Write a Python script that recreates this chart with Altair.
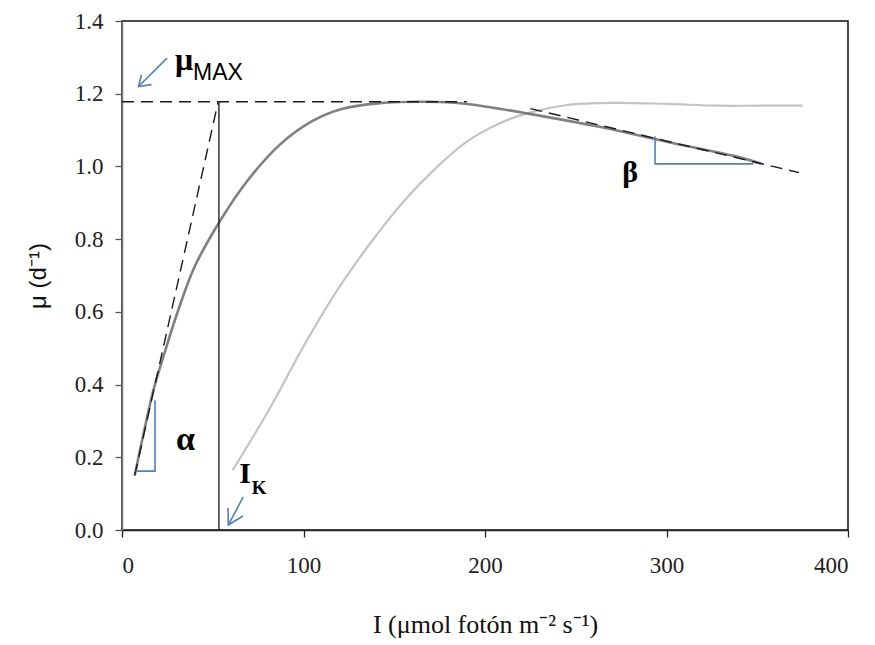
import altair as alt
import pandas as pd

# ---- data ----
dark_x = [7, 12, 17.3, 23, 30, 40, 54, 69, 87, 105, 121, 142, 165, 183, 200, 223, 263, 300, 337, 352]
dark_y = [0.15, 0.268, 0.385, 0.48, 0.59, 0.724, 0.85, 0.96, 1.06, 1.125, 1.158, 1.174, 1.178, 1.175, 1.165, 1.146, 1.109, 1.068, 1.029, 1.008]

light_x = [61, 81.5, 100, 118, 137, 155, 173, 190, 207, 223, 245, 272, 300, 328, 350, 375]
light_y = [0.165, 0.335, 0.505, 0.655, 0.79, 0.903, 0.996, 1.068, 1.116, 1.146, 1.169, 1.175, 1.172, 1.167, 1.167, 1.167]

# dashed guide lines
mumax_x = [0, 190]
mumax_y = [1.178, 1.178]
alpha_x = [7, 53]
alpha_y = [0.15, 1.178]
beta_x = [225, 373]
beta_y = [1.159, 0.983]

# I_K vertical line
ik_x = [53.4, 53.4]
ik_y = [0.0, 1.178]

# blue slope triangles
alpha_tri_x = [18.2, 18.2, 7.5]
alpha_tri_y = [0.357, 0.162, 0.162]
beta_tri_x = [293.7, 293.7, 347.8]
beta_tri_y = [1.082, 1.007, 1.007]

# blue arrows (shaft, head)
mu_arrow_shaft_x = [24.8, 9.1]
mu_arrow_shaft_y = [1.298, 1.220]
mu_arrow_head_x = [10.7, 9.1, 16.3]
mu_arrow_head_y = [1.252, 1.220, 1.225]
ik_arrow_shaft_x = [66.8, 58.6]
ik_arrow_shaft_y = [0.091, 0.0138]
ik_arrow_head_x = [58.4, 58.6, 66.6]
ik_arrow_head_y = [0.0605, 0.0138, 0.0385]

x_ticks = [0, 100, 200, 300, 400]
y_ticks = [0.0, 0.2, 0.4, 0.6, 0.8, 1.0, 1.2, 1.4]

FONT_SERIF = "Liberation Serif"
FONT_SANS = "Liberation Sans"

X_SCALE = alt.Scale(domain=[0, 400], nice=False, zero=False)
Y_SCALE = alt.Scale(domain=[0, 1.4], nice=False, zero=False)
X_AXIS = alt.Axis(title="I (μmol fotón m⁻² s⁻¹)", values=x_ticks, format="d",
                  grid=False, tickSize=7, labelPadding=17, titlePadding=34,
                  domainColor="#222", tickColor="#222",
                  labelFont=FONT_SERIF, labelFontSize=23, labelColor="#222",
                  titleFont=FONT_SERIF, titleFontSize=26, titleColor="#111", titleFontWeight="normal")
Y_AXIS = alt.Axis(title="μ (d⁻¹)", values=y_ticks, format=".1f",
                  grid=False, tickSize=7, labelPadding=12, titlePadding=24,
                  domainColor="#777", tickColor="#555",
                  labelFont=FONT_SERIF, labelFontSize=23, labelColor="#222",
                  titleFont=FONT_SANS, titleFontSize=24, titleColor="#111", titleFontWeight="normal")


def XE():
    return alt.X("x:Q", scale=X_SCALE, axis=X_AXIS)


def YE():
    return alt.Y("y:Q", scale=Y_SCALE, axis=Y_AXIS)


def seq(xs, ys, name):
    return pd.DataFrame({"x": xs, "y": ys, "i": list(range(len(xs))), "g": name})


def enc_xy():
    return dict(x=XE(), y=YE(), order="i:Q", detail="g:N")


dark = alt.Chart(seq(dark_x, dark_y, "dark")).mark_line(
    color="#808080", strokeWidth=2.6, interpolate="catmull-rom").encode(**enc_xy())
light = alt.Chart(seq(light_x, light_y, "light")).mark_line(
    color="#c4c4c4", strokeWidth=2.2, interpolate="catmull-rom").encode(**enc_xy())

dashed_df = pd.concat([
    seq(mumax_x, mumax_y, "mumax"),
    seq(alpha_x, alpha_y, "alpha"),
    seq(beta_x, beta_y, "beta"),
])
dashed = alt.Chart(dashed_df).mark_line(
    color="#1a1a1a", strokeWidth=1.4, strokeDash=[12, 7]).encode(**enc_xy())

ik = alt.Chart(seq(ik_x, ik_y, "ik")).mark_line(
    color="#222", strokeWidth=1.4).encode(**enc_xy())

blue_df = pd.concat([
    seq(alpha_tri_x, alpha_tri_y, "atri"),
    seq(beta_tri_x, beta_tri_y, "btri"),
    seq(mu_arrow_shaft_x, mu_arrow_shaft_y, "mushaft"),
    seq(mu_arrow_head_x, mu_arrow_head_y, "muhead"),
    seq(ik_arrow_shaft_x, ik_arrow_shaft_y, "ikshaft"),
    seq(ik_arrow_head_x, ik_arrow_head_y, "ikhead"),
])
blue = alt.Chart(blue_df).mark_line(color="#4f81bd", strokeWidth=1.6).encode(**enc_xy())


def txt(df, **kw):
    return alt.Chart(df).mark_text(**kw).encode(x=XE(), y=YE(), text="t:N")


mu_t = txt(pd.DataFrame({"x": [29.2], "y": [1.265], "t": ["μ"]}),
           font=FONT_SERIF, fontSize=32, fontWeight="bold", align="left", baseline="alphabetic", color="#000")
max_t = txt(pd.DataFrame({"x": [39.1], "y": [1.238], "t": ["MAX"]}),
            font=FONT_SANS, fontSize=23, align="left", baseline="alphabetic", color="#000")
alpha_t = txt(pd.DataFrame({"x": [35.0], "y": [0.22], "t": ["α"]}),
              font=FONT_SERIF, fontSize=34, fontWeight="bold", align="center", baseline="alphabetic", color="#000")
beta_t = txt(pd.DataFrame({"x": [280.0], "y": [0.982], "t": ["β"]}),
             font=FONT_SERIF, fontSize=30, fontWeight="bold", align="center", baseline="middle", color="#000")
i_t = txt(pd.DataFrame({"x": [67.8], "y": [0.13], "t": ["I"]}),
          font=FONT_SERIF, fontSize=30, fontWeight="bold", align="center", baseline="alphabetic", color="#000")
k_t = txt(pd.DataFrame({"x": [75.5], "y": [0.1], "t": ["K"]}),
          font=FONT_SERIF, fontSize=19, fontWeight="bold", align="center", baseline="alphabetic", color="#000")

chart = alt.layer(light, dark, dashed, ik, blue, mu_t, max_t, alpha_t, beta_t, i_t, k_t).properties(
    width=726, height=509,
    autosize=alt.AutoSizeParams(type="none"),
    padding={"left": 122, "top": 21, "right": 27, "bottom": 115},
    background="white",
).configure_view(
    stroke="#111", strokeWidth=1.5
).configure_axis(
    domainWidth=1.5, tickWidth=1.3,
)

chart.save("out.html", embed_options={"renderer": "svg", "actions": False})
